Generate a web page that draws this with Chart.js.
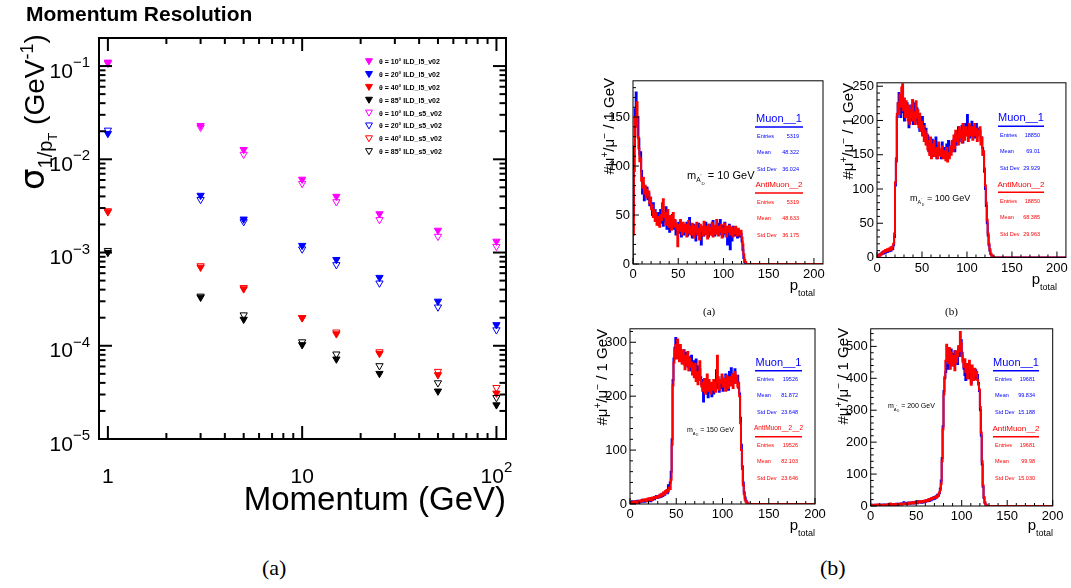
<!DOCTYPE html>
<html>
<head>
<meta charset="utf-8">
<script src="https://cdn.jsdelivr.net/npm/chart.js@4.4.1/dist/chart.umd.min.js"></script>
<style>
  body { margin: 0; background: #fff; }
  #page { position: relative; width: 1071px; height: 588px; overflow: hidden; background: #fff; }
  canvas { position: absolute; }
  .cap { position: absolute; font-family: "Liberation Serif", serif; color: #000; line-height: 1; }
</style>
</head>
<body>
<div id="page">
  <canvas id="res" style="left:0px;top:0px" width="540" height="540"></canvas>
  <canvas id="ha" style="left:590px;top:70px" width="240" height="240"></canvas>
  <canvas id="hb" style="left:830px;top:72px" width="241" height="238"></canvas>
  <canvas id="hc" style="left:590px;top:318px" width="240" height="232"></canvas>
  <canvas id="hd" style="left:830px;top:318px" width="241" height="232"></canvas>
  <div class="cap" style="left:262px;top:557px;font-size:22px">(a)</div>
  <div class="cap" style="left:820px;top:557px;font-size:22px">(b)</div>
  <div class="cap" style="left:703px;top:306px;font-size:11px">(a)</div>
  <div class="cap" style="left:945px;top:306px;font-size:11px">(b)</div>
</div>
<script>
// ---- momentum resolution (left) ----
const momenta = [1, 3, 5, 10, 15, 25, 50, 100];
const th10_l5 = [0.11, 0.023, 0.0127, 0.0061, 0.0040, 0.0026, 0.00173, 0.00132];
const th20_l5 = [0.0189, 0.0041, 0.00228, 0.00119, 0.00084, 0.00054, 0.00030, 0.000168];
const th40_l5 = [0.00273, 0.000695, 0.000407, 0.000199, 0.000134, 0.0000826, 0.0000488, 0.000031];
const th85_l5 = [0.0010, 0.000331, 0.000192, 0.0001025, 0.0000719, 0.0000504, 0.0000326, 0.0000232];
const th10_s5 = [0.107, 0.022, 0.0113, 0.0055, 0.0035, 0.00225, 0.00149, 0.00116];
const th20_s5 = [0.0205, 0.0037, 0.00214, 0.00109, 0.00074, 0.00047, 0.00026, 0.000148];
const th40_s5 = [0.0028, 0.00072, 0.00042, 0.00020, 0.00014, 0.000086, 0.000053, 0.0000356];
const th85_s5 = [0.00105, 0.00034, 0.000214, 0.00011, 0.0000814, 0.000061, 0.00004, 0.0000278];
const resLabels = ['θ = 10° ILD_l5_v02', 'θ = 20° ILD_l5_v02', 'θ = 40° ILD_l5_v02', 'θ = 85° ILD_l5_v02',
                   'θ = 10° ILD_s5_v02', 'θ = 20° ILD_s5_v02', 'θ = 40° ILD_s5_v02', 'θ = 85° ILD_s5_v02'];

// ---- p_total histograms, 1 GeV bins starting at 0 ----
const a_muon = [
  2, 48, 120, 158, 175, 142, 150, 128, 112, 114,
  95, 72, 82, 65, 75, 70, 78, 66, 72, 60,
  64, 58, 50, 62, 48, 55, 47, 44, 52, 40,
  46, 55, 42, 48, 39, 50, 44, 58, 36, 47,
  42, 33, 45, 38, 50, 41, 36, 44, 30, 39,
  35, 42, 32, 38, 28, 36, 40, 30, 37, 33,
  42, 29, 36, 47, 31, 38, 27, 35, 40, 32,
  24, 36, 30, 41, 33, 27, 20, 34, 38, 29,
  36, 42, 31, 35, 28, 40, 33, 37, 30, 44,
  34, 29, 38, 32, 41, 36, 30, 45, 33, 39,
  28, 36, 42, 31, 37, 20, 35, 40, 15, 36,
  24, 38, 33, 29, 36, 31, 27, 34, 30, 28,
  31, 23, 14, 6, 2, 1, 0, 0, 0, 0];
const a_anti = [
  0, 30, 95, 150, 140, 165, 130, 118, 105, 108,
  85, 78, 88, 72, 80, 68, 76, 70, 74, 62,
  68, 56, 60, 48, 55, 44, 52, 40, 48, 42,
  38, 50, 45, 62, 66, 48, 52, 40, 46, 55,
  38, 44, 49, 35, 42, 52, 38, 45, 41, 36,
  18, 40, 34, 45, 38, 30, 42, 36, 33, 40,
  28, 37, 44, 32, 38, 30, 41, 35, 27, 39,
  33, 42, 30, 36, 25, 40, 34, 38, 29, 43,
  35, 31, 38, 26, 40, 33, 37, 30, 42, 28,
  36, 39, 31, 45, 34, 29, 38, 33, 40, 27,
  36, 32, 41, 35, 28, 38, 33, 39, 30, 34,
  37, 28, 35, 31, 38, 33, 29, 36, 32, 30,
  34, 27, 20, 10, 4, 2, 0, 0, 0, 0];
const b_muon = [
  0, 0, 2, 4, 3, 6, 5, 8, 6, 9,
  7, 10, 8, 11, 9, 12, 10, 14, 12, 18,
  30, 105, 140, 205, 225, 240, 222, 205, 235, 212,
  228, 200, 218, 210, 225, 205, 190, 215, 200, 222,
  205, 195, 225, 210, 200, 218, 195, 205, 185, 200,
  190, 205, 180, 195, 172, 188, 165, 178, 155, 168,
  150, 162, 172, 148, 160, 152, 175, 145, 158, 165,
  150, 155, 145, 168, 150, 160, 148, 158, 165, 155,
  170, 150, 162, 155, 168, 160, 172, 155, 180, 165,
  175, 190, 170, 185, 175, 192, 168, 185, 178, 195,
  185, 208, 180, 192, 175, 188, 198, 180, 192, 175,
  185, 195, 178, 188, 180, 185, 172, 175, 160, 150,
  125, 100, 75, 50, 32, 18, 10, 5, 3, 1];
const b_anti = [
  0, 1, 3, 2, 5, 4, 7, 6, 9, 8,
  11, 9, 12, 10, 13, 11, 15, 12, 16, 20,
  35, 110, 145, 210, 225, 210, 238, 220, 248, 253,
  215, 232, 205, 228, 210, 200, 222, 195, 215, 205,
  230, 200, 212, 195, 228, 205, 215, 190, 210, 185,
  198, 178, 192, 170, 185, 165, 180, 158, 170, 150,
  175, 145, 165, 150, 170, 148, 160, 155, 145, 168,
  152, 158, 148, 162, 145, 155, 150, 142, 160, 140,
  152, 145, 162, 150, 170, 155, 178, 160, 185, 170,
  180, 165, 190, 175, 185, 168, 195, 180, 172, 190,
  178, 185, 170, 195, 182, 178, 190, 172, 185, 195,
  178, 188, 170, 185, 178, 190, 165, 175, 150, 155,
  130, 105, 80, 55, 35, 20, 12, 6, 3, 1];
const c_muon = [
  0, 3, 2, 5, 3, 4, 2, 5, 3, 6,
  4, 3, 6, 4, 8, 5, 4, 6, 5, 8,
  6, 9, 7, 5, 10, 8, 11, 9, 12, 15,
  11, 14, 12, 16, 13, 18, 15, 20, 17, 22,
  25, 20, 35, 28, 40, 60, 120, 230, 270, 290,
  308, 285, 300, 275, 290, 268, 280, 262, 275, 285,
  258, 270, 280, 255, 272, 248, 262, 275, 250, 265,
  240, 258, 268, 245, 255, 238, 250, 235, 222, 230,
  190, 215, 205, 228, 212, 198, 222, 208, 215, 200,
  218, 205, 225, 210, 248, 215, 230, 208, 222, 215,
  235, 210, 228, 218, 240, 222, 230, 212, 245, 225,
  252, 230, 240, 225, 250, 235, 225, 238, 215, 205,
  160, 110, 70, 40, 22, 12, 6, 3, 1, 0];
const c_anti = [
  2, 1, 3, 2, 4, 3, 5, 2, 4, 3,
  5, 6, 4, 7, 5, 8, 6, 9, 7, 5,
  10, 8, 11, 9, 7, 12, 10, 13, 11, 14,
  12, 15, 13, 17, 14, 19, 16, 22, 18, 24,
  21, 26, 23, 30, 28, 45, 110, 220, 262, 285,
  295, 270, 305, 280, 265, 295, 272, 260, 285, 268,
  250, 275, 258, 282, 248, 270, 255, 262, 240, 258,
  235, 260, 228, 245, 222, 240, 265, 230, 218, 210,
  225, 232, 205, 220, 240, 210, 230, 215, 205, 225,
  212, 230, 218, 208, 225, 275, 235, 212, 230, 225,
  240, 218, 232, 225, 210, 238, 222, 215, 235, 220,
  228, 240, 215, 232, 245, 225, 238, 218, 225, 200,
  150, 100, 65, 35, 18, 8, 4, 2, 1, 0];
const d_muon = [
  3, 2, 4, 3, 2, 4, 3, 2, 3, 4,
  2, 3, 4, 2, 3, 5, 3, 4, 2, 5,
  3, 4, 6, 3, 5, 4, 6, 3, 5, 7,
  4, 6, 5, 7, 5, 8, 6, 12, 7, 9,
  6, 10, 8, 11, 7, 10, 9, 12, 8, 11,
  10, 13, 9, 15, 11, 12, 14, 10, 15, 12,
  16, 13, 18, 15, 20, 16, 22, 18, 25, 21,
  28, 23, 30, 27, 35, 32, 40, 55, 80, 150,
  250, 360, 400, 420, 440, 458, 430, 470, 448, 490,
  455, 475, 440, 485, 460, 478, 445, 490, 470, 500,
  520, 480, 455, 430, 410, 395, 440, 420, 400, 435,
  415, 385, 430, 405, 420, 398, 425, 400, 410, 385,
  360, 300, 220, 130, 60, 25, 10, 4, 1, 0];
const d_anti = [
  2, 4, 3, 2, 3, 2, 4, 3, 5, 2,
  4, 3, 2, 4, 3, 2, 4, 3, 5, 3,
  4, 6, 8, 4, 5, 3, 6, 4, 5, 6,
  4, 7, 5, 6, 8, 5, 7, 6, 9, 7,
  8, 6, 10, 8, 9, 11, 8, 12, 10, 9,
  13, 11, 10, 14, 12, 15, 11, 16, 14, 13,
  17, 15, 19, 16, 18, 21, 19, 24, 22, 26,
  25, 28, 26, 32, 30, 36, 42, 50, 70, 140,
  240, 350, 405, 455, 505, 470, 448, 495, 430, 480,
  455, 440, 470, 425, 485, 450, 470, 500, 485, 545,
  510, 470, 450, 435, 460, 420, 445, 400, 430, 455,
  420, 380, 440, 415, 395, 430, 410, 420, 395, 380,
  365, 310, 230, 140, 65, 28, 12, 5, 2, 0];

// stats box numbers: Entries, Mean, Std Dev
const a_stats = [['5319', '48.322', '36.024'], ['5319', '48.633', '36.175']];
const b_stats = [['18850', '69.01', '29.929'], ['18850', '68.385', '29.963']];
const c_stats = [['19526', '81.872', '23.648'], ['19526', '82.103', '23.646']];
const d_stats = [['19681', '99.834', '15.188'], ['19681', '99.98', '15.030']];
const masses = ['10', '100', '150', '200'];

const FONT = '"Liberation Sans", Arial, sans-serif';
const F = (size, w) => (w ? w + ' ' : '') + size + 'px ' + FONT;

// draw a run of text pieces (sub/superscripts via dy)
function rich(ctx, parts, x, y, align) {
  let w = 0;
  parts.forEach(p => { ctx.font = p.f; p.w = ctx.measureText(p.t).width; w += p.w; });
  let cx = align === 'right' ? x - w : align === 'center' ? x - w / 2 : x;
  ctx.textAlign = 'left';
  ctx.textBaseline = 'alphabetic';
  parts.forEach(p => { ctx.font = p.f; ctx.fillText(p.t, cx, y + (p.dy || 0)); cx += p.w; });
}

function seg(ctx, x1, y1, x2, y2) {
  ctx.beginPath(); ctx.moveTo(x1, y1); ctx.lineTo(x2, y2); ctx.stroke();
}

function triangle(ctx, x, y, r, color, filled) {
  ctx.beginPath();
  ctx.moveTo(x, y + r);
  ctx.lineTo(x - r * 0.866, y - r * 0.5);
  ctx.lineTo(x + r * 0.866, y - r * 0.5);
  ctx.closePath();
  ctx.strokeStyle = color; ctx.lineWidth = 1;
  if (filled) { ctx.fillStyle = color; ctx.fill(); }
  ctx.stroke();
}

// ---------------- left chart ----------------
const resColors = ['#ff00ff', '#0000ff', '#ff0000', '#000000'];
const resSeries = [th10_l5, th20_l5, th40_l5, th85_l5, th10_s5, th20_s5, th40_s5, th85_s5];

const resDecor = {
  id: 'resDecor',
  afterDraw(chart) {
    const ctx = chart.ctx, ca = chart.chartArea;
    const xs = chart.scales.x, ys = chart.scales.y;
    ctx.save();
    ctx.strokeStyle = '#000';
    ctx.fillStyle = '#000';
    ctx.lineWidth = 2;
    ctx.strokeRect(ca.left, ca.top, ca.right - ca.left, ca.bottom - ca.top);
    // x ticks (log)
    for (let e = -1; e <= 2; e++) {
      for (let m = 1; m <= 9; m++) {
        const v = m * Math.pow(10, e);
        if (v <= xs.min || v >= xs.max) continue;
        const px = xs.getPixelForValue(v);
        const len = m === 1 ? 13 : 6;
        seg(ctx, px, ca.bottom, px, ca.bottom - len);
        seg(ctx, px, ca.top, px, ca.top + len);
      }
    }
    // y ticks (log)
    for (let e = -5; e <= -1; e++) {
      for (let m = 1; m <= 9; m++) {
        const v = m * Math.pow(10, e);
        if (v < ys.min * 0.999 || v >= ys.max) continue;
        const py = ys.getPixelForValue(v);
        const len = m === 1 ? 13 : 6.5;
        seg(ctx, ca.left, py, ca.left + len, py);
        seg(ctx, ca.right, py, ca.right - len, py);
      }
    }
    // y labels
    for (let e = -5; e <= -1; e++) {
      const py = ys.getPixelForValue(Math.pow(10, e));
      rich(ctx, [{ t: '10', f: F(21), dy: 11.5 }, { t: '−' + (-e), f: F(15), dy: 1 }], 90, py, 'right');
    }
    // x labels
    const lx = [[1, [{ t: '1', f: F(21) }]], [10, [{ t: '10', f: F(21) }]],
                [100, [{ t: '10', f: F(21) }, { t: '2', f: F(15), dy: -11 }]]];
    lx.forEach(([v, parts]) => rich(ctx, parts, xs.getPixelForValue(v), 483, 'center'));
    // titles
    rich(ctx, [{ t: 'Momentum Resolution', f: F(21, 'bold') }], 26, 21, 'left');
    rich(ctx, [{ t: 'Momentum (GeV)', f: F(33) }], 506, 510, 'right');
    ctx.save();
    ctx.translate(44, 190);
    ctx.rotate(-Math.PI / 2);
    rich(ctx, [{ t: 'σ', f: '34px "DejaVu Sans"' }, { t: '1/p', f: F(20), dy: 8 }, { t: 'T', f: F(13), dy: 13 },
               { t: ' (GeV', f: F(28) }, { t: '-1', f: F(18), dy: -11 }, { t: ')', f: F(28) }], 0, 0, 'left');
    ctx.restore();
    // legend
    resLabels.forEach((lab, i) => {
      const y = 61.7 + i * 12.85;
      triangle(ctx, 369, y - 1, 4, resColors[i % 4], i < 4);
      ctx.fillStyle = '#000';
      rich(ctx, [{ t: lab, f: F(7, 'bold') }], 379, y + 2.5, 'left');
    });
    ctx.restore();
  }
};

new Chart(document.getElementById('res'), {
  type: 'scatter',
  data: {
    datasets: resSeries.map((vals, i) => ({
      label: resLabels[i],
      data: momenta.map((m, j) => ({ x: m, y: vals[j] })),
      pointStyle: 'triangle',
      rotation: 180,
      radius: 4.2,
      borderWidth: 1,
      borderColor: resColors[i % 4],
      backgroundColor: i < 4 ? resColors[i % 4] : 'rgba(0,0,0,0)',
      order: i < 4 ? 2 : 1
    }))
  },
  options: {
    responsive: false,
    animation: false,
    events: [],
    layout: { padding: { top: 38, right: 34, left: 0, bottom: 0 } },
    scales: {
      x: { type: 'logarithmic', min: 0.9, max: 112, ticks: { display: false }, grid: { display: false }, border: { display: false },
           afterFit: s => { s.height = 101; } },
      y: { type: 'logarithmic', min: 1e-5, max: 0.2, ticks: { display: false }, grid: { display: false }, border: { display: false },
           afterFit: s => { s.width = 99; } }
    },
    plugins: { legend: { display: false }, tooltip: { enabled: false } }
  },
  plugins: [resDecor]
});

// ---------------- histograms ----------------
function histPoints(values, xMax) {
  const pts = [{ x: 0, y: 0 }];
  values.forEach((v, i) => pts.push({ x: i, y: v }));
  pts.push({ x: values.length, y: 0 });
  pts.push({ x: xMax, y: 0 });
  return pts;
}

function makeHistDecor(p) {
  return {
    id: 'histDecor',
    afterDraw(chart) {
      const ctx = chart.ctx, ca = chart.chartArea, xs = chart.scales.x, ys = chart.scales.y;
      const ox = p.origin[0], oy = p.origin[1];
      ctx.save();
      ctx.strokeStyle = '#000';
      ctx.fillStyle = '#000';
      ctx.lineWidth = 1;
      ctx.strokeRect(ca.left, ca.top, ca.right - ca.left, ca.bottom - ca.top);
      for (let v = 0; v <= 200; v += 10) {
        const px = xs.getPixelForValue(v);
        seg(ctx, px, ca.bottom, px, ca.bottom - (v % 50 === 0 ? 6 : 3));
      }
      for (let v = 0; v <= p.yMax; v += p.yMinor) {
        const py = ys.getPixelForValue(v);
        seg(ctx, ca.left, py, ca.left + (v % p.yStep === 0 ? 6 : 3), py);
      }
      // axis titles
      ctx.save();
      ctx.translate(p.yTitle[0] - ox, p.yTitle[1] - oy);
      ctx.rotate(-Math.PI / 2);
      rich(ctx, [{ t: '#μ', f: F(15) }, { t: '+', f: F(10), dy: -6 }, { t: '/μ', f: F(15) }, { t: '−', f: F(10), dy: -6 },
                 { t: ' / 1 GeV', f: F(15) }], 0, 0, 'right');
      ctx.restore();
      rich(ctx, [{ t: 'p', f: F(15) }, { t: 'total', f: F(9), dy: 6 }], p.pTitle[0] - ox, p.pTitle[1] - oy, 'right');
      // mass label
      const s = p.mass[2];
      rich(ctx, [{ t: 'm', f: F(s) }, { t: 'A', f: F(s * 0.6), dy: s * 0.3 }, { t: '′', f: F(s * 0.45), dy: -s * 0.05 },
                 { t: 'D', f: F(s * 0.4), dy: s * 0.55 }, { t: ' = ' + p.massText + ' GeV', f: F(s) }],
           p.mass[0] - ox, p.mass[1] - oy + s * 0.35, 'left');
      // stats boxes
      const x0 = p.box[0] - ox, x1 = p.box[1] - ox;
      const blocks = [['#0000ff', 'Muon__1', p.titleSize[0], p.stats[0], 0],
                      ['#ff0000', p.antiName, p.titleSize[1], p.stats[1], 66]];
      blocks.forEach(([col, name, ts, vals, off]) => {
        const ty = p.box[2] - oy + off;
        ctx.fillStyle = col;
        ctx.strokeStyle = col;
        ctx.font = F(ts);
        ctx.textAlign = 'center';
        ctx.textBaseline = 'middle';
        ctx.fillText(name, (x0 + x1) / 2, ty);
        ctx.lineWidth = 1.5;
        seg(ctx, x0, ty + 8, x1, ty + 8);
        ['Entries', 'Mean', 'Std Dev'].forEach((lab, k) => {
          const ry = ty + [17, 33, 50][k];
          ctx.font = F(5.5);
          ctx.textAlign = 'left';
          ctx.fillText(lab, x0 + 2, ry);
          ctx.textAlign = 'right';
          ctx.fillText(vals[k], x1 - 4, ry);
        });
      });
      ctx.restore();
    }
  };
}

const panels = [
  { id: 'ha', origin: [590, 70], w: 240, h: 240, area: [633, 77, 823, 264], xMax: 210, yMax: 187, yStep: 50, yMinor: 10,
    muon: a_muon, anti: a_anti, stats: a_stats, massText: masses[0], antiName: 'AntiMuon__2', titleSize: [11, 8],
    box: [755, 803, 119], mass: [687, 175, 11], yTitle: [614, 78], pTitle: [815, 290] },
  { id: 'hb', origin: [830, 72], w: 241, h: 238, area: [877, 82.3, 1066.7, 257.5], xMax: 210, yMax: 255, yStep: 50, yMinor: 10,
    muon: b_muon, anti: b_anti, stats: b_stats, massText: masses[1], antiName: 'AntiMuon__2', titleSize: [11, 8],
    box: [998, 1044, 118.3], mass: [910, 198, 9], yTitle: [853, 83], pTitle: [1057, 284] },
  { id: 'hc', origin: [590, 318], w: 240, h: 232, area: [630, 327, 815, 504], xMax: 200, yMax: 325, yStep: 100, yMinor: 20,
    muon: c_muon, anti: c_anti, stats: c_stats, massText: masses[2], antiName: 'AntiMuon__2__2', titleSize: [11, 6.5],
    box: [755, 802, 362.7], mass: [687, 430, 7], yTitle: [607, 329], pTitle: [815, 530] },
  { id: 'hd', origin: [830, 318], w: 241, h: 232, area: [870.7, 326, 1052.7, 506], xMax: 200, yMax: 555, yStep: 100, yMinor: 20,
    muon: d_muon, anti: d_anti, stats: d_stats, massText: masses[3], antiName: 'AntiMuon__2', titleSize: [11, 8],
    box: [993, 1039, 362.7], mass: [888, 406, 7], yTitle: [848, 328], pTitle: [1053, 530] }
];

panels.forEach(p => {
  const [l, t, r, b] = p.area;
  const yTicks = [];
  for (let v = 0; v <= p.yMax; v += p.yStep) yTicks.push({ value: v });
  new Chart(document.getElementById(p.id), {
    type: 'line',
    data: {
      datasets: [
        { label: p.antiName, data: histPoints(p.anti, p.xMax), borderColor: '#ff0000', order: 1 },
        { label: 'Muon__1', data: histPoints(p.muon, p.xMax), borderColor: '#0000ff', order: 2 }
      ]
    },
    options: {
      responsive: false,
      animation: false,
      events: [],
      layout: { padding: { top: t - p.origin[1], right: p.w - (r - p.origin[0]), left: 0, bottom: 0 } },
      elements: { point: { radius: 0 }, line: { borderWidth: 2, tension: 0 } },
      datasets: { line: { stepped: 'after', fill: false } },
      scales: {
        x: { type: 'linear', min: 0, max: p.xMax,
             afterBuildTicks: s => { s.ticks = [0, 50, 100, 150, 200].map(v => ({ value: v })); },
             ticks: { font: { family: FONT, size: 13 }, color: '#000', padding: 3, maxRotation: 0, autoSkip: false },
             grid: { display: false, drawTicks: false }, border: { display: false },
             afterFit: s => { s.height = p.h - (b - p.origin[1]); } },
        y: { type: 'linear', min: 0, max: p.yMax,
             afterBuildTicks: s => { s.ticks = yTicks.slice(); },
             ticks: { font: { family: FONT, size: 13 }, color: '#000', padding: 3, autoSkip: false },
             grid: { display: false, drawTicks: false }, border: { display: false },
             afterFit: s => { s.width = l - p.origin[0]; } }
      },
      plugins: { legend: { display: false }, tooltip: { enabled: false } }
    },
    plugins: [makeHistDecor(p)]
  });
});
</script>
</body>
</html>
